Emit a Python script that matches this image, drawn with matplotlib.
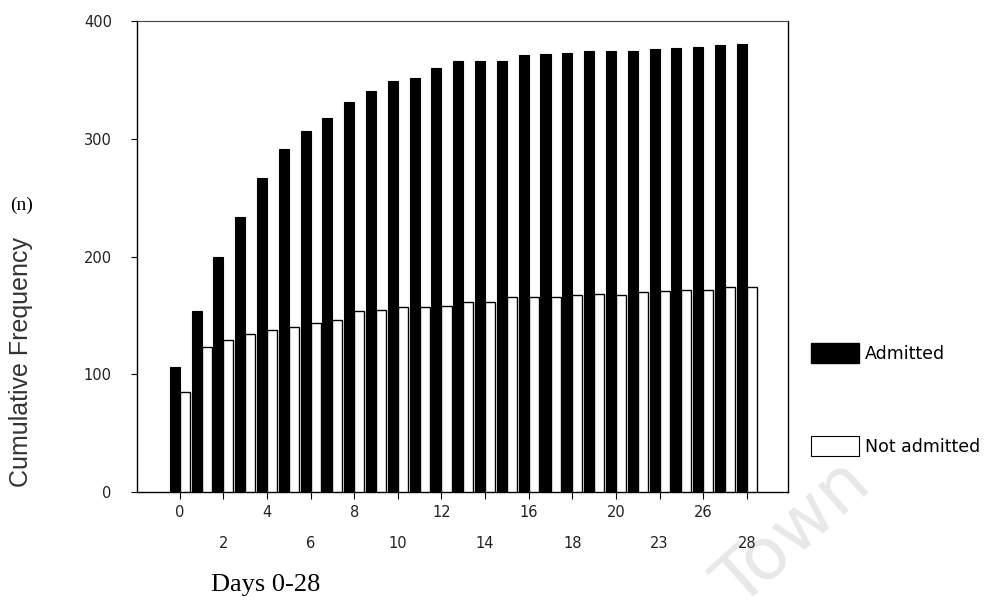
import numpy as np
import matplotlib
matplotlib.use("Agg")
import matplotlib.pyplot as plt
from matplotlib.patches import Patch

# day categories (27 groups, as shown on the axis)
days = [0, 1, 2, 3, 4, 5, 6, 7, 8, 9, 10, 11, 12, 13, 14, 15, 16, 17, 18, 19,
        20, 21, 23, 24, 26, 27, 28]
admitted = [106, 154, 200, 234, 267, 291, 307, 318, 331, 341, 349, 352, 360,
            366, 366, 366, 371, 372, 373, 375, 375, 375, 376, 377, 378, 380, 381]
not_admitted = [85, 123, 129, 134, 138, 140, 144, 146, 154, 155, 157, 157, 158,
                161, 161, 166, 166, 166, 167, 168, 167, 170, 171, 172, 172, 174, 174]

fig = plt.figure(figsize=(9.99, 6.04), dpi=100)
ax = fig.add_axes([0.137, 0.1854, 0.652, 0.7796])
ax.patch.set_alpha(0)

x = np.arange(len(days))
w = 0.46
ax.bar(x - w / 2, admitted, w, color="black", edgecolor="black", linewidth=0.8,
       label="Admitted", zorder=3)
ax.bar(x + w / 2, not_admitted, w, color="white", edgecolor="black", linewidth=1.0,
       label="Not admitted", zorder=3)

ax.set_xlim(-1.97, 27.9)
ax.set_ylim(0, 400)

# y axis
ax.set_yticks([0, 100, 200, 300, 400])
ax.set_yticklabels(["0", "100", "200", "300", "400"], fontsize=10.5, color="#222222")
ax.tick_params(axis="y", direction="out", length=4, width=0.8, pad=14)

# x axis: labels on two staggered rows
top_idx = [0, 4, 8, 12, 16, 20, 24]
low_idx = [2, 6, 10, 14, 18, 22, 26]
ax.set_xticks(top_idx)
ax.set_xticklabels([str(days[i]) for i in top_idx], fontsize=10.5, color="#222222")
ax.set_xticks(low_idx, minor=True)
ax.set_xticklabels([str(days[i]) for i in low_idx], minor=True, fontsize=10.5,
                   color="#222222")
ax.tick_params(axis="x", which="major", direction="out", length=5, width=0.8, pad=4)
ax.tick_params(axis="x", which="minor", direction="out", length=5, width=0.8, pad=27)

for side in ["left", "bottom", "right"]:
    ax.spines[side].set_linewidth(1.0)
    ax.spines[side].set_color("black")
ax.spines["top"].set_linewidth(0.8)
ax.spines["top"].set_color("#444444")

# axis labels
fig.text(0.021, 0.40, "Cumulative Frequency", rotation=90, ha="center", va="center",
         fontsize=18, color="#333333", family="Liberation Sans")
fig.text(0.022, 0.66, "(n)", ha="center", va="center", fontsize=14,
         family="Liberation Serif")
fig.text(0.266, 0.031, "Days 0-28", ha="center", va="center", fontsize=19,
         family="Liberation Serif")

# legend
handles = [Patch(facecolor="black", edgecolor="black", label="Admitted"),
           Patch(facecolor="white", edgecolor="black", linewidth=0.8,
                 label="Not admitted")]
fig.legend(handles=handles, loc="center left", bbox_to_anchor=(0.803, 0.338),
           frameon=False, fontsize=12.5, handlelength=2.8, handleheight=1.4,
           labelspacing=4.2, handletextpad=0.3, borderpad=0)

# faint watermark, behind everything
fig.text(0.795, 0.115, "Town", rotation=42, ha="center", va="center", fontsize=52,
         color="#e8e8e8", zorder=-1)

fig.savefig("out.png", dpi=100)
